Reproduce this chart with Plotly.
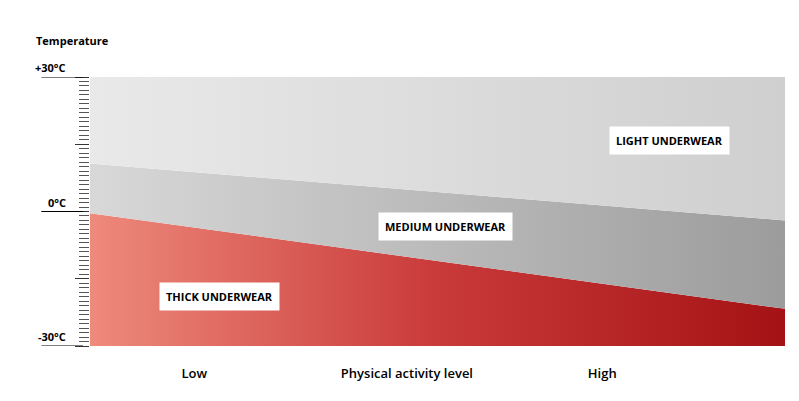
import plotly.graph_objects as go

# activity level runs 0 (low) to 1 (high); temperatures in °C
activity = [0, 1]
bottom_temp = [-30, -30]
thick_top = [-0.4, -21.7]
medium_top = [10.7, -2.0]
light_top = [30, 30]

zone_labels = ['THICK UNDERWEAR', 'MEDIUM UNDERWEAR', 'LIGHT UNDERWEAR']
zone_x = [0.186, 0.511, 0.834]
zone_y = [-19, -3.3, 15.8]

temp_ticks = [30, 0, -30]
temp_text = ['+30°C', '0°C', '-30°C']

x_ticks = [0.15, 0.456, 0.737]
x_text = ['Low', 'Physical activity level', 'High']

fig = go.Figure()
fig.add_trace(go.Scatter(x=activity, y=bottom_temp, mode='lines', line=dict(width=0), showlegend=False))
fig.add_trace(go.Scatter(x=activity, y=thick_top, mode='lines', line=dict(width=0), fill='tonexty',
                         fillgradient=dict(type='horizontal', colorscale=[[0, '#ee8a7c'], [0.5, '#c93a3a'], [1, '#a51215']]),
                         showlegend=False))
fig.add_trace(go.Scatter(x=activity, y=medium_top, mode='lines', line=dict(width=0), fill='tonexty',
                         fillgradient=dict(type='horizontal', colorscale=[[0, '#d8d8d8'], [1, '#9c9c9c']]),
                         showlegend=False))
fig.add_trace(go.Scatter(x=activity, y=light_top, mode='lines', line=dict(width=0), fill='tonexty',
                         fillgradient=dict(type='horizontal', colorscale=[[0, '#e9e9e9'], [1, '#cfcfcf']]),
                         showlegend=False))

for t, x, y in zip(zone_labels, zone_x, zone_y):
    fig.add_annotation(x=x, y=y, text='<b>' + t + '</b>', showarrow=False, bgcolor='white',
                       borderpad=6, font=dict(size=11, color='black', family='Open Sans'))

for v, t in zip(temp_ticks, temp_text):
    fig.add_annotation(x=0, xref='paper', xanchor='right', xshift=-22, y=v, yanchor='bottom',
                       text='<b>' + t + '</b>', showarrow=False, font=dict(size=11, color='black', family='Open Sans'))
    fig.add_shape(type='line', xref='paper', x0=-0.07, x1=-0.01, y0=v, y1=v, line=dict(color='black', width=1.2))

fig.add_annotation(x=-0.08, xref='paper', xanchor='left', y=1.1, yref='paper', yanchor='bottom',
                   text='<b>Temperature</b>', showarrow=False, font=dict(size=11, color='black', family='Open Sans'))

fig.update_layout(
    width=799, height=401, plot_bgcolor='white', paper_bgcolor='white',
    margin=dict(l=82, r=22, t=69, b=63),
    xaxis=dict(range=[0, 1], showgrid=False, zeroline=False, tickvals=x_ticks, ticktext=x_text,
               automargin=False, ticks='', ticklabelstandoff=18,
               tickfont=dict(size=13, color='black', family='Open Sans', weight=600)),
    yaxis=dict(range=[-30, 30], showgrid=False, zeroline=False, tickvals=[-30, -15, 0, 15, 30],
               automargin=False, showticklabels=False, ticks='outside', ticklen=14, tickcolor='#333',
               minor=dict(dtick=1, ticks='outside', ticklen=10, tickcolor='#555')),
    font=dict(family='Open Sans'),
)
fig.write_html('out.html')
